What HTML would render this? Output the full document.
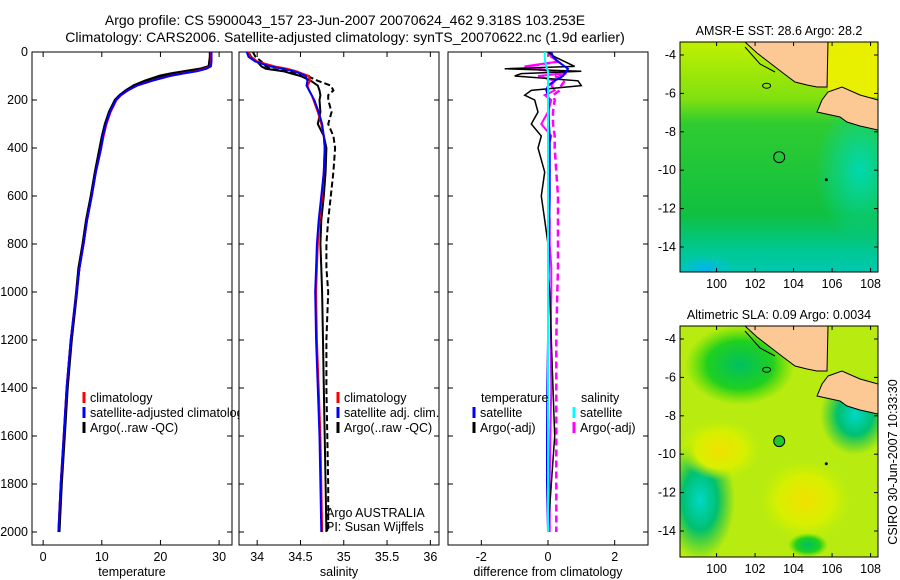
<!DOCTYPE html>
<html><head><meta charset="utf-8"><style>
body{margin:0;background:#fff}
svg{display:block;font-family:"Liberation Sans",sans-serif}
</style></head><body>
<svg id="fig" width="900" height="580" viewBox="0 0 900 580">
<defs>
<clipPath id="c1"><rect x="32" y="52" width="200" height="493"/></clipPath>
<clipPath id="c2"><rect x="239" y="52" width="200" height="493"/></clipPath>
<clipPath id="c3"><rect x="448" y="52" width="200" height="493"/></clipPath>
<clipPath id="m1"><rect x="680" y="42" width="198" height="230"/></clipPath>
<clipPath id="m2"><rect x="680" y="326" width="198" height="231"/></clipPath>
<linearGradient id="sstg" x1="0" y1="0" x2="0" y2="1">
<stop offset="0" stop-color="#c0f000"/><stop offset="0.25" stop-color="#80e010"/><stop offset="0.35" stop-color="#30cc30"/>
<stop offset="0.75" stop-color="#10c040"/><stop offset="0.9" stop-color="#00c890"/><stop offset="1" stop-color="#00c8b0"/></linearGradient>
<radialGradient id="cy1" cx="0.5" cy="0.5" r="0.5"><stop offset="0" stop-color="#00d8b0"/><stop offset="1" stop-color="#00d8b0" stop-opacity="0"/></radialGradient>
<radialGradient id="bl1" cx="0.5" cy="0.5" r="0.5"><stop offset="0" stop-color="#00b0f0"/><stop offset="1" stop-color="#00c8d0" stop-opacity="0"/></radialGradient>
<radialGradient id="yl" cx="0.5" cy="0.5" r="0.5"><stop offset="0" stop-color="#f0e000"/><stop offset="0.6" stop-color="#d8f000"/><stop offset="1" stop-color="#c8f000" stop-opacity="0"/></radialGradient>
<radialGradient id="gr" cx="0.5" cy="0.5" r="0.5"><stop offset="0" stop-color="#00c060"/><stop offset="0.6" stop-color="#20d020"/><stop offset="1" stop-color="#40d800" stop-opacity="0"/></radialGradient>
<radialGradient id="cy2" cx="0.5" cy="0.5" r="0.5"><stop offset="0" stop-color="#00d8c8"/><stop offset="0.5" stop-color="#00c070"/><stop offset="1" stop-color="#10c040" stop-opacity="0"/></radialGradient>
</defs>
<text x="345" y="25" font-size="14" text-anchor="middle">Argo profile: CS 5900043_157 23-Jun-2007 20070624_462 9.318S 103.253E</text>
<text x="345" y="42" font-size="14" text-anchor="middle">Climatology: CARS2006. Satellite-adjusted climatology: synTS_20070622.nc (1.9d earlier)</text>
<g id="plots"></g>
<g id="maps"></g>
<text transform="translate(897,462) rotate(-90)" font-size="12.5" text-anchor="middle">CSIRO 30-Jun-2007 10:33:30</text>
</svg>
<script>
const depth=[0,20,40,60,70,80,90,100,120,140,160,180,200,250,300,350,400,500,600,700,800,900,1000,1200,1400,1600,1800,2000];
const tempClim=[28.6,28.6,28.6,28.5,27.5,26,23.5,21.5,18.5,16,14.5,13.3,12.5,11.5,10.8,10.3,9.9,9,8.3,7.5,6.9,6.2,5.7,4.7,4.0,3.5,3.0,2.6];
const tempSat=[28.7,28.7,28.7,28.6,27.8,26.3,23.8,21.6,18.6,16,14.4,13.2,12.4,11.4,10.7,10.2,9.9,9,8.3,7.5,6.9,6.2,5.7,4.7,4.0,3.5,3.0,2.6];
const tempArgo=[28.5,28.5,28.4,28.3,27,24.5,22,20,17.5,15.5,14.2,13.1,12.3,11.3,10.6,10.1,9.7,8.9,8.2,7.4,6.8,6.1,5.7,4.8,4.1,3.6,3.1,2.7];
const salClim=[33.9,33.92,34.0,34.2,34.35,34.45,34.52,34.6,34.61,34.58,34.6,34.63,34.65,34.7,34.74,34.77,34.78,34.77,34.75,34.72,34.7,34.69,34.68,34.69,34.71,34.73,34.74,34.75];
const salSat=[33.88,33.9,33.98,34.15,34.3,34.42,34.5,34.56,34.58,34.57,34.6,34.63,34.66,34.71,34.75,34.77,34.78,34.77,34.74,34.71,34.69,34.68,34.67,34.68,34.7,34.72,34.73,34.74];
const salArgo=[33.9,33.93,34.0,34.05,34.1,34.3,34.4,34.5,34.62,34.7,34.72,34.73,34.72,34.73,34.7,34.77,34.8,34.79,34.77,34.74,34.73,34.74,34.75,34.76,34.77,34.78,34.79,34.8];
const salArgoQC=[33.95,33.98,34.05,34.1,34.15,34.35,34.48,34.58,34.7,34.85,34.88,34.82,34.82,34.86,34.82,34.88,34.9,34.88,34.85,34.82,34.8,34.8,34.82,34.8,34.8,34.81,34.82,34.82];
const dTempSat=[0.1,0.15,0.3,0.5,0.6,0.55,0.5,0.45,0.2,0.0,-0.05,0.0,0.02,0.02,0.03,0.05,0.05,0.05,0.05,0.04,0.03,0.02,0.0,0.0,-0.02,-0.03,-0.03,0];
const dTempArgo=[0,0.2,0.5,0.8,-1.3,1.0,-0.8,-1.0,0.9,1.0,-0.5,-0.7,-0.4,-0.3,-0.5,-0.2,-0.3,-0.1,-0.2,-0.1,0,0,0.05,0.1,0.15,0.2,0.1,0];
const dSalSat=[-0.1,-0.1,-0.08,-0.05,-0.03,0,0,0,0,0,0,0,0,0,0,0,0,0,0,0,0,0,0,0,0,0,0,0];
const dSalArgo=[0,0.1,0.3,-0.7,-0.5,0.1,0.4,-0.3,0.2,0.1,0.2,-0.1,0.1,0.0,-0.2,0.1,0.0,0.05,0.0,0.05,0.05,0.1,0.1,0.08,0.1,0.07,0.05,0.05];
const dSalArgoQC=[0,0.1,0.3,-0.6,-0.4,0.2,0.6,0.2,0.5,0.4,0.35,0.15,0.2,0.15,0.15,0.2,0.2,0.25,0.3,0.3,0.3,0.3,0.28,0.25,0.25,0.25,0.25,0.25];
const depthTicks=[0,200,400,600,800,1000,1200,1400,1600,1800,2000];
const tempTicks=[0,10,20,30];
const salTicks=[34,34.5,35,35.5,36];
const diffTicks=[-2,0,2];
const lonTicks=[100,102,104,106,108];
const latTicks=[-4,-6,-8,-10,-12,-14];
const argoLon=103.253, argoLat=-9.318;

const NS='http://www.w3.org/2000/svg';
function mk(tag,attrs,parent){const e=document.createElementNS(NS,tag);for(const k in attrs)e.setAttribute(k,attrs[k]);parent.appendChild(e);return e;}
const plots=document.getElementById('plots');
const yD=d=>52+d*0.24;
function panel(name,x0,x1,dmin,dmax,ticks,xlabel,clip,series){
  const g=mk('g',{},plots);
  
  
  const xs=v=>x0+(v-dmin)/(dmax-dmin)*(x1-x0);
  const fr=mk('rect',{x:x0,y:52,width:x1-x0,height:493,fill:'#fff',stroke:'#000','stroke-width':1},g);
  
  
  depthTicks.forEach(d=>{const y=yD(d);
    mk('line',{x1:x0,x2:x0+5,y1:y,y2:y,stroke:'#000'},g);mk('line',{x1:x1-5,x2:x1,y1:y,y2:y,stroke:'#000'},g);
    if(name==='temperature'){const t=mk('text',{x:x0-4,y:y+4,'font-size':12.5,'text-anchor':'end'},g);t.textContent=d;
      
      }
  });
  ticks.forEach(v=>{const x=xs(v);
    mk('line',{x1:x,x2:x,y1:545,y2:540,stroke:'#000'},g);mk('line',{x1:x,x2:x,y1:52,y2:57,stroke:'#000'},g);
    const t=mk('text',{x:x,y:561,'font-size':12.5,'text-anchor':'middle'},g);t.textContent=v;
    
    });
  const xl=mk('text',{x:(x0+x1)/2,y:576,'font-size':12.5,'text-anchor':'middle'},g);xl.textContent=xlabel;
  
  
  const sg=mk('g',{'clip-path':'url(#'+clip+')'},g);
  series.forEach(s=>{
    const d=s.vals.map((v,i)=>(i?'L':'M')+xs(v).toFixed(1)+','+yD(depth[i]).toFixed(1)).join('');
    const p=mk('path',{d:d,fill:'none',stroke:s.c,'stroke-width':s.w||2,'stroke-dasharray':s.dash||'none'},sg);
    
    
  });
  return g;
}
function legend(g,x,y,items){items.forEach((it,i)=>{const yy=y+i*15;
  mk('line',{x1:x,x2:x,y1:yy-10,y2:yy+1,stroke:it.c,'stroke-width':3},g);
  const t=mk('text',{x:x+6,y:yy,'font-size':12.5},g);t.textContent=it.t;
  
  });}
const g1=panel('temperature',32,232,-1.9,32.2,tempTicks,'temperature','c1',[
 {vals:tempArgo,c:'#000',w:3,n:'argo-temperature-line'},
 {vals:tempClim,c:'#f00',n:'climatology-temperature-line'},
 {vals:tempSat,c:'#00f',n:'satellite-temperature-line'}]);
legend(g1,84,402,[{c:'#f00',t:'climatology'},{c:'#00f',t:'satellite-adjusted climatology'},{c:'#000',t:'Argo(..raw -QC)'}]);
const g2=panel('salinity',239,439,33.79,36.1,salTicks,'salinity','c2',[
 {vals:salArgoQC,c:'#000',w:2,dash:'6,3',n:'argo-salinity-qc-line'},
 {vals:salArgo,c:'#000',w:2,n:'argo-salinity-line'},
 {vals:salClim,c:'#f00',n:'climatology-salinity-line'},
 {vals:salSat,c:'#00f',n:'satellite-salinity-line'}]);
legend(g2,338,402,[{c:'#f00',t:'climatology'},{c:'#00f',t:'satellite adj. clim.'},{c:'#000',t:'Argo(..raw -QC)'}]);
[['Argo AUSTRALIA',517],['PI: Susan Wijffels',531]].forEach(a=>{const t=mk('text',{x:326,y:a[1],'font-size':12.5},g2);t.textContent=a[0];
 
 });
const g3=panel('difference',448,648,-3,3,diffTicks,'difference from climatology','c3',[
 {vals:dSalArgoQC,c:'#f0f',w:2.5,dash:'7,4',n:'argo-salinity-diff-qc-line'},
 {vals:dSalArgo,c:'#f0f',w:2,n:'argo-salinity-diff-line'},
 {vals:dTempArgo,c:'#000',w:1.5,n:'argo-temperature-diff-line'},
 {vals:dTempSat,c:'#00f',w:2,n:'satellite-temperature-diff-line'},
 {vals:dSalSat,c:'#0ff',w:2,n:'satellite-salinity-diff-line'}]);
const lt=mk('text',{x:481,y:402,'font-size':12.5},g3);lt.textContent='temperature';


const ls=mk('text',{x:581,y:402,'font-size':12.5},g3);ls.textContent='salinity';


legend(g3,474,417,[{c:'#00f',t:'satellite'},{c:'#000',t:'Argo(-adj)'}]);
legend(g3,574,417,[{c:'#0ff',t:'satellite'},{c:'#f0f',t:'Argo(-adj)'}]);

const maps=document.getElementById('maps');
function map(name,y0,title,fills,circleFill){
  const g=mk('g',{},maps);
  
  
  const x0=680,w=198,h=y0===42?230:231;
  const lx=v=>x0+(v-98.1)*19.25;
  const ly=v=>y0+13+(-4-v)*19.2;
  const fg=mk('g',{'clip-path':'url(#'+(y0===42?'m1':'m2')+')'},g);
  fills(fg,x0,y0,w,h);
  const off=y0-42;
  const land1='745,'+y0+' 757,'+(53+off)+' 770,'+(63+off)+' 783,'+(73+off)+' 795,'+(82+off)+' 807,'+(85+off)+' 817,'+(87+off)+' 827,'+(87+off)+' 828,'+y0;
  const land2='828,'+(92+off)+' 842,'+(87+off)+' 860,'+(95+off)+' 878,'+(100+off)+' 878,'+(130+off)+' 860,'+(126+off)+' 847,'+(122+off)+' 840,'+(117+off)+' 817,'+(112+off)+' 822,'+(100+off);
  [land1,land2].forEach(pt=>{const p=mk('polygon',{points:pt,fill:'#fcc894',stroke:'#000','stroke-width':1},fg);
    
    });
  mk('polyline',{points:'745,'+(y0+5)+' 760,'+(y0+22)+' 775,'+(y0+30),fill:'none',stroke:'#000','stroke-width':1},fg);
  mk('ellipse',{cx:lx(102.6),cy:ly(-5.6),rx:4,ry:2.5,fill:'none',stroke:'#000'},fg);
  const c=mk('circle',{cx:lx(argoLon),cy:ly(argoLat),r:5.5,fill:circleFill,stroke:'#000','stroke-width':1},g);
  
  
  mk('circle',{cx:lx(105.7),cy:ly(-10.5),r:1.5,fill:'#000'},g);
  const fr=mk('rect',{x:x0,y:y0,width:w,height:h,fill:'none',stroke:'#000'},g);
  
  
  lonTicks.forEach(v=>{const x=lx(v);mk('line',{x1:x,x2:x,y1:y0+h,y2:y0+h-4,stroke:'#000'},g);mk('line',{x1:x,x2:x,y1:y0,y2:y0+4,stroke:'#000'},g);
    const t=mk('text',{x:x,y:y0+h+16,'font-size':12.5,'text-anchor':'middle'},g);t.textContent=v;
    
    });
  latTicks.forEach(v=>{const y=ly(v);mk('line',{x1:x0,x2:x0+4,y1:y,y2:y,stroke:'#000'},g);mk('line',{x1:x0+w-4,x2:x0+w,y1:y,y2:y,stroke:'#000'},g);
    const t=mk('text',{x:x0-4,y:y+4,'font-size':12.5,'text-anchor':'end'},g);t.textContent=v;
    
    });
  const t=mk('text',{x:x0+w/2,y:y0-7,'font-size':12.5,'text-anchor':'middle'},g);t.textContent=title;
  
  
}
map('sst-map',42,'AMSR-E SST: 28.6 Argo: 28.2',(g,x,y,w,h)=>{
  mk('rect',{x:x,y:y,width:w,height:h,fill:'url(#sstg)'},g);
  mk('rect',{x:828,y:y,width:50,height:55,fill:'#e8f000'},g);
  mk('ellipse',{cx:860,cy:170,rx:45,ry:70,fill:'url(#cy1)'},g);
  mk('ellipse',{cx:705,cy:268,rx:30,ry:14,fill:'url(#bl1)'},g);
},'none');
map('sla-map',326,'Altimetric SLA: 0.09 Argo: 0.0034',(g,x,y,w,h)=>{
  mk('rect',{x:x,y:y,width:w,height:h,fill:'#b8ec10'},g);
  mk('ellipse',{cx:740,cy:365,rx:55,ry:40,fill:'url(#gr)'},g);
  mk('ellipse',{cx:700,cy:500,rx:35,ry:60,fill:'url(#cy2)'},g);
  mk('ellipse',{cx:855,cy:415,rx:35,ry:40,fill:'url(#cy2)'},g);
  mk('ellipse',{cx:720,cy:450,rx:40,ry:30,fill:'url(#yl)'},g);
  mk('ellipse',{cx:805,cy:500,rx:45,ry:40,fill:'url(#yl)'},g);
  mk('ellipse',{cx:808,cy:545,rx:20,ry:12,fill:'url(#gr)'},g);
},'#20c830');
</script>
</body></html>
